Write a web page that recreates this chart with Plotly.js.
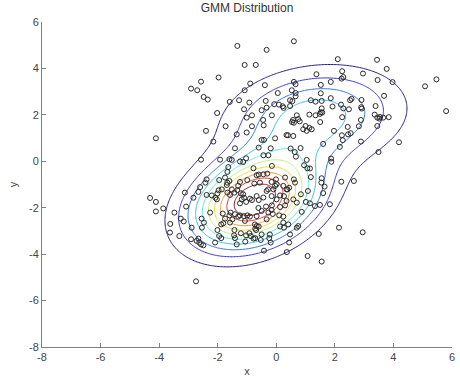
<!DOCTYPE html>
<html>
<head>
<meta charset="utf-8">
<script src="https://cdn.plot.ly/plotly-3.0.1.min.js"></script>
<style>
html,body{margin:0;padding:0;background:#fff;}
#chart{width:460px;height:383px;}
</style>
</head>
<body>
<div id="chart"></div>
<script>
// ---- Sample points ----
const sampleX = [
-1.33,-0.33,0.60,-1.08,-0.70,-2.57,-1.97,-2.91,-2.70,-2.48,-2.34,-0.89,-1.08,-0.39,-1.59,-1.27,-0.92,-2.02,-1.10,-0.36,
0.05,0.60,0.66,0.53,0.66,0.66,0.47,0.55,-0.33,-0.50,-0.07,0.09,0.22,0.25,0.47,-1.01,-0.83,-0.15,-0.45,-0.43,
-0.83,-1.73,0.57,0.70,0.75,0.60,0.80,
2.10,3.44,3.77,3.97,2.25,2.29,2.23,2.96,3.46,1.37,1.86,1.52,5.08,5.47,5.80,3.68,1.52,1.18,1.34,1.55,
1.86,2.52,2.57,2.91,2.21,1.92,2.29,2.48,2.90,2.92,3.39,1.55,1.52,1.57,1.49,1.13,1.34,3.36,3.45,3.52,
3.54,3.65,3.84,2.25,2.89,1.50,1.00,1.13,2.44,2.82,3.45,
1.60,1.97,2.17,2.24,2.27,2.54,2.45,2.89,3.49,4.19,0.92,1.04,1.21,0.54,0.40,0.58,0.49,0.63,0.83,0.67,
1.04,0.95,1.06,1.15,1.87,1.88,
1.18,2.22,2.65,1.55,1.54,1.65,1.60,1.08,0.84,1.01,1.15,1.32,1.49,1.83,
0.87,1.45,2.14,2.95,1.07,1.55,
-4.11,-3.48,-3.62,-3.63,-3.26,-3.16,-3.31,-2.89,-2.91,-2.72,-2.63,-2.66,-2.57,-2.49,-2.74,-2.55,-2.47,-2.54,-2.26,-2.01,
-1.95,-1.88,-2.09,-1.83,-1.75,-1.88,-1.81,-1.58,-1.50,-1.60,-1.56,-1.41,-1.30,-1.24,-1.11,-0.99,-0.90,-1.43,-1.44,-1.41,
-1.35,-1.21,-1.03,-0.87,-0.92,-1.06,-0.73,-0.67,-0.60,-0.72,-0.69,-0.78,-0.72,-0.50,-0.53,-0.22,-0.24,-0.19,-0.42,0.13,
0.26,0.24,0.41,0.47,0.44,0.36,0.70,0.75,0.10,0.24,-0.12,-0.16,-0.27,
-4.11,-2.40,-2.15,-2.57,-1.92,-1.41,-1.35,-1.01,-0.50,-0.42,-0.04,0.35,-0.60,-0.19,-0.44,-0.27,-1.60,-1.52,-1.24,-1.13,
-1.03,-1.64,-1.67,-0.78,-0.15,-2.38,-2.42,-1.95,-1.67,-1.60,-1.69,-1.24,-0.99,-0.67,-0.60,-0.44,-0.31,-0.56,-0.75,-0.16,
-0.01,0.01,0.24,0.35,0.60,0.64,-3.12,-3.08,-2.60,-2.66,-2.38,-2.83,-2.08,-2.03,-2.20,-1.97,-1.86,-2.01,-1.67,-1.58,
-1.43,-1.33,-1.21,-1.18,-1.10,-1.24,-1.03,-0.90,-0.83,-0.67,-0.60,-0.44,-0.33,-0.28,-0.16,-0.10,0.01,0.13,0.26,0.30,
0.35,0.38,0.44,-0.61,-0.35,-0.15,0.13,0.58,0.70,-4.31,-4.11,-3.86,
-1.13,-0.50,-0.04,-1.30,-1.52,-0.67,-0.33,-1.07,0.30,-1.75
];
const sampleY = [
4.97,4.80,5.17,4.15,4.15,3.43,3.61,3.13,3.06,2.77,2.66,3.35,3.06,3.28,2.56,2.63,2.53,2.08,2.24,2.60,
2.94,3.42,3.32,3.06,2.94,2.80,2.63,2.59,2.31,2.20,2.46,2.44,2.37,2.30,2.38,1.88,1.98,1.98,1.78,1.55,
1.51,1.51,1.78,1.98,1.82,1.66,1.72,
4.40,4.37,3.98,3.41,3.88,3.63,3.56,3.78,3.50,3.75,3.42,3.29,3.23,3.53,2.16,2.82,2.93,2.63,2.57,2.60,
2.72,2.63,2.69,2.64,2.44,2.36,2.28,2.24,2.33,2.27,2.38,2.28,2.11,2.10,2.04,2.01,1.98,2.01,1.88,1.84,
1.91,1.88,1.90,1.90,1.78,1.69,1.52,1.44,1.48,1.51,1.52,
0.75,1.31,0.62,1.12,0.91,1.21,1.16,0.85,0.40,0.82,1.38,1.31,1.38,1.69,1.12,1.09,0.55,0.40,0.57,0.20,
0.06,-0.17,-0.30,-0.31,0.12,-0.02,
-0.68,-0.88,-0.85,-0.73,-0.92,-1.09,-1.37,-1.28,-1.42,-1.75,-1.81,-1.93,-1.88,-1.85,
-2.18,-3.13,-2.86,-3.06,-4.08,-4.32,
-2.16,-2.21,-2.70,-3.07,-2.47,-2.59,-3.22,-2.86,-3.36,-3.43,-3.50,-3.33,-3.58,-3.62,-5.17,-2.47,-2.64,-2.86,-2.21,-2.96,
-3.22,-3.31,-3.50,-2.25,-2.47,-2.72,-2.67,-2.64,-2.50,-2.33,-2.21,-2.28,-2.38,-2.33,-2.36,-2.33,-2.38,-2.96,-3.19,-3.31,
-3.58,-3.10,-3.19,-3.22,-3.10,-3.46,-2.72,-2.79,-2.81,-2.90,-2.96,-3.33,-3.31,-3.15,-3.39,-3.15,-3.31,-3.50,-3.85,-2.81,
-2.86,-2.64,-2.72,-3.15,-3.50,-3.91,-2.86,-2.79,-2.33,-2.38,-2.27,-2.10,-2.21,
0.99,1.31,0.85,0.07,0.07,0.56,1.16,1.24,0.92,0.92,0.99,1.13,0.59,0.56,0.26,0.26,0.09,0.06,-0.01,-0.03,
0.13,-0.25,-0.46,-0.30,-0.20,-0.78,-0.92,-0.81,-0.92,-0.85,-1.02,-0.89,-0.81,-0.60,-0.57,-0.56,-0.53,-0.92,-0.96,-0.89,
-0.78,-0.99,-1.06,-1.21,-0.78,-0.92,-1.35,-1.95,-1.11,-1.32,-1.45,-1.57,-1.57,-1.64,-1.47,-1.25,-1.21,-1.39,-1.35,-1.45,
-1.35,-1.24,-1.38,-1.64,-1.57,-1.81,-1.75,-1.61,-1.67,-1.50,-1.67,-1.56,-1.28,-1.21,-1.50,-1.21,-1.64,-1.47,-1.50,-1.90,
-1.71,-1.21,-1.14,-2.01,-1.95,-1.90,-1.97,-1.64,-1.78,-1.58,-1.75,-2.03,
-1.42,-2.14,-1.06,-1.06,-1.21,-2.36,-2.50,-2.57,-0.70,-0.70
];

// ---- Fitted two-component Gaussian mixture (estimated from the contours) ----
const gmmWeights = [0.64, 0.36];
const gmmMeanX = [-0.75, 1.3];
const gmmMeanY = [-1.7, 1.9];
const gmmVarX = [1.95, 3.3];
const gmmVarY = [1.7, 1.7];
const gmmCovXY = [0.55, 0.4];

// contour levels of the pdf
const levelStart = 0.0054, levelStep = 0.0052, levelEnd = 0.0525;

// axis ticks
const tickVals = [-8, -6, -4, -2, 0, 2, 4, 6];

function gmmPdf(x, y) {
  let s = 0;
  for (let k = 0; k < gmmWeights.length; k++) {
    const a = gmmVarX[k], d = gmmVarY[k], b = gmmCovXY[k];
    const det = a * d - b * b;
    const dx = x - gmmMeanX[k], dy = y - gmmMeanY[k];
    const q = (d * dx * dx - 2 * b * dx * dy + a * dy * dy) / det;
    s += gmmWeights[k] * Math.exp(-0.5 * q) / (2 * Math.PI * Math.sqrt(det));
  }
  return s;
}

const gx = [], gy = [];
for (let i = 0; i <= 280; i++) { gx.push(-8 + i * 0.05); gy.push(-8 + i * 0.05); }
const gz = gy.map(y => gx.map(x => gmmPdf(x, y)));

const jetLike = [
  [0.000, 'rgb(35,25,140)'],
  [0.111, 'rgb(55,50,215)'],
  [0.222, 'rgb(40,115,235)'],
  [0.333, 'rgb(50,190,235)'],
  [0.444, 'rgb(95,235,215)'],
  [0.556, 'rgb(195,240,120)'],
  [0.667, 'rgb(250,215,50)'],
  [0.778, 'rgb(250,145,40)'],
  [0.889, 'rgb(235,50,35)'],
  [1.000, 'rgb(150,15,25)']
];

const traces = [
  {
    type: 'scatter', mode: 'markers', x: sampleX, y: sampleY,
    marker: {symbol: 'circle-open', size: 5, color: '#2a2a2a', line: {width: 1, color: '#2a2a2a'}},
    hoverinfo: 'skip', showlegend: false
  },
  {
    type: 'contour', x: gx, y: gy, z: gz, autocontour: false,
    contours: {coloring: 'lines', start: levelStart, end: levelEnd, size: levelStep, showlabels: false},
    line: {width: 1, smoothing: 1},
    colorscale: jetLike, zauto: false, zmin: levelStart, zmax: levelStart + 9 * levelStep,
    showscale: false, hoverinfo: 'skip'
  }
];

const axisCommon = {
  range: [-8, 6], tickvals: tickVals, ticktext: tickVals.map(String),
  showgrid: false, zeroline: false, showline: true, linecolor: '#808080', linewidth: 1,
  ticks: 'inside', ticklen: 4, tickcolor: '#808080', tickwidth: 1,
  tickfont: {family: 'Liberation Sans, Arial, sans-serif', size: 11, color: '#444'},
  mirror: false, fixedrange: true
};

const layout = {
  width: 460, height: 383,
  margin: {l: 42, r: 8, t: 22, b: 36},
  paper_bgcolor: '#fff', plot_bgcolor: '#fff',
  showlegend: false,
  title: {text: 'GMM Distribution', x: 0.5, xref: 'paper', xanchor: 'center', y: 0.979, yanchor: 'middle',
          font: {family: 'Liberation Sans, Arial, sans-serif', size: 12, color: '#333'}},
  xaxis: Object.assign({}, axisCommon, {title: {text: 'x', standoff: 5, font: {family: 'Liberation Sans, Arial, sans-serif', size: 11, color: '#444'}}}),
  yaxis: Object.assign({}, axisCommon, {title: {text: 'y', standoff: 9, font: {family: 'Liberation Sans, Arial, sans-serif', size: 11, color: '#444'}}})
};

Plotly.newPlot('chart', traces, layout, {displayModeBar: false, staticPlot: true});
</script>
</body>
</html>
